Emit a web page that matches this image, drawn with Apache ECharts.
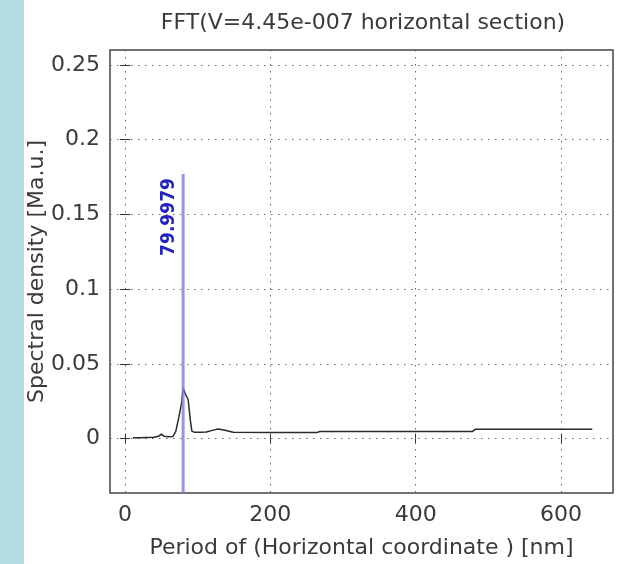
<!DOCTYPE html>
<html>
<head>
<meta charset="utf-8">
<script src="https://cdn.jsdelivr.net/npm/echarts@6/dist/echarts.min.js"></script>
<style>
  html, body { margin: 0; padding: 0; background: #fff; }
  #strip { position: absolute; left: 0; top: 0; width: 24px; height: 564px; background: #b4dde2; }
  #chart { position: absolute; left: 0; top: 0; width: 622px; height: 564px; }
</style>
</head>
<body>
<div id="strip"></div>
<div id="chart"></div>
<script>
// spectrum curve (period nm -> spectral density)
var periodX = [11, 20, 30, 40, 46, 50, 54, 60, 66, 70, 74, 78, 80, 83, 87, 90, 92, 96, 104, 112, 120, 128, 136, 149, 200, 264, 268, 340, 400, 478, 482, 560, 643];
var densityY = [0.0005, 0.0006, 0.0008, 0.0009, 0.0015, 0.003, 0.0015, 0.0012, 0.0014, 0.005, 0.014, 0.024, 0.034, 0.03, 0.026, 0.012, 0.005, 0.0042, 0.0042, 0.0044, 0.0055, 0.0064, 0.0058, 0.0042, 0.004, 0.004, 0.0047, 0.0047, 0.0047, 0.0047, 0.0063, 0.0063, 0.0063];

// marker at the peak
var peakPeriod = 79.9979;
var peakLineTop = 0.177;

var xTicks = [0, 200, 400, 600];
var yTicks = [0, 0.05, 0.1, 0.15, 0.2, 0.25];
var xMin = -20.6, xMax = 671.5;
var yMin = -0.0364, yMax = 0.26;

var curveData = [];
for (var i = 0; i < periodX.length; i++) {
  curveData.push([periodX[i], densityY[i]]);
}

var font = 'DejaVu Sans';
var gridLine = { show: true, lineStyle: { color: '#666', type: [1.5, 5.5], width: 1 } };

var myChart = echarts.init(document.getElementById('chart'), null, { renderer: 'canvas' });
var option = {
  animation: false,
  backgroundColor: 'transparent',
  title: {
    text: 'FFT(V=4.45e-007 horizontal section)',
    left: 358, top: 7, textAlign: 'center',
    textStyle: { fontFamily: font, fontSize: 22, fontWeight: 'normal', color: '#3a3a3a' }
  },
  grid: {
    left: 110, top: 50, width: 503, height: 448,
    show: true, borderColor: '#444', borderWidth: 1.5, backgroundColor: '#fff'
  },
  xAxis: [{
    type: 'value', min: xMin, max: xMax,
    name: 'Period of (Horizontal coordinate ) [nm]',
    nameLocation: 'middle', nameGap: 44,
    nameTextStyle: { fontFamily: font, fontSize: 22, color: '#3a3a3a' },
    axisLine: { show: false },
    axisTick: { show: true, inside: true, length: 5, customValues: xTicks, lineStyle: { color: '#333' } },
    axisLabel: { customValues: xTicks, fontFamily: font, fontSize: 22, color: '#3a3a3a', margin: 11 },
    splitLine: gridLine
  }, {
    type: 'value', min: xMin, max: xMax, position: 'top',
    axisLine: { show: false },
    axisTick: { show: true, inside: true, length: 5, customValues: xTicks, lineStyle: { color: '#333' } },
    axisLabel: { show: false },
    splitLine: { show: false }
  }],
  yAxis: [{
    type: 'value', min: yMin, max: yMax,
    name: 'Spectral density [Ma.u.]',
    nameLocation: 'middle', nameGap: 62, nameMoveOverlap: false,
    nameTextStyle: { fontFamily: font, fontSize: 22, color: '#3a3a3a' },
    axisLine: { show: false },
    axisTick: { show: true, inside: true, length: 5, customValues: yTicks, lineStyle: { color: '#333' } },
    axisLabel: { customValues: yTicks, fontFamily: font, fontSize: 22, color: '#3a3a3a', margin: 10 },
    splitLine: gridLine
  }, {
    type: 'value', min: yMin, max: yMax, position: 'right',
    axisLine: { show: false },
    axisTick: { show: true, inside: true, length: 5, customValues: yTicks, lineStyle: { color: '#333' } },
    axisLabel: { show: false },
    splitLine: { show: false }
  }],
  series: [{
    name: 'spectrum',
    type: 'line',
    data: curveData,
    symbol: 'none',
    lineStyle: { color: '#2a2a2a', width: 1.5 },
    z: 3
  }, {
    name: 'peak',
    type: 'line',
    data: [[peakPeriod, yMin], [peakPeriod, peakLineTop]],
    symbol: 'none',
    lineStyle: { color: '#8585dc', width: 3, opacity: 0.85 },
    z: 4,
    endLabel: {
      show: true,
      formatter: String(peakPeriod),
      rotate: 90,
      align: 'right',
      verticalAlign: 'bottom',
      offset: [-4, -13],
      fontFamily: 'DejaVu Sans Condensed',
      fontWeight: 'bold',
      fontSize: 19,
      color: '#2323c0'
    }
  }]
};
myChart.setOption(option);
window.onresize = myChart.resize;
</script>
</body>
</html>
